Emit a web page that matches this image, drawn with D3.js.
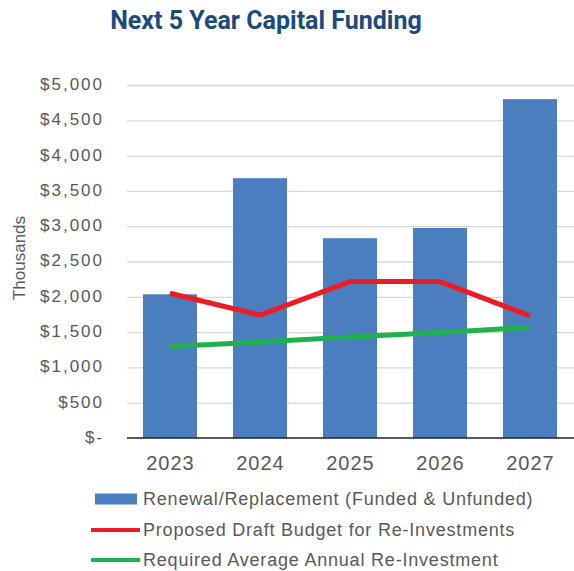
<!DOCTYPE html>
<html>
<head>
<meta charset="utf-8">
<script src="https://cdn.jsdelivr.net/npm/d3@7"></script>
<style>
  html, body { margin: 0; padding: 0; background: #fff; }
  svg { display: block; }
</style>
</head>
<body>
<svg id="chart" width="574" height="571"></svg>
<script>
// Capital funding, in thousands of dollars
const years = ["2023", "2024", "2025", "2026", "2027"];
const renewal = [2035, 3680, 2830, 2975, 4800];
const proposed = [2050, 1740, 2215, 2215, 1730];
const required = [1295, 1360, 1430, 1495, 1565];
const yTicks = [0, 500, 1000, 1500, 2000, 2500, 3000, 3500, 4000, 4500, 5000];
const legendLabels = [
  "Renewal/Replacement (Funded & Unfunded)",
  "Proposed Draft Budget for Re-Investments",
  "Required Average Annual Re-Investment"
];

const svg = d3.select("#chart");
const textFont = "'Liberation Sans', Arial, sans-serif";
const grey = "#595959";

const x = d3.scaleBand().domain(years).range([125, 575]).paddingInner(0.4).paddingOuter(0.2);
const y = d3.scaleLinear().domain([0, 5000]).range([438, 85]);

// Title
svg.append("text")
  .attr("x", 266).attr("y", 29)
  .attr("text-anchor", "middle")
  .style("font-family", "'Liberation Sans Narrow', 'Roboto', sans-serif")
  .style("font-weight", "bold")
  .style("font-size", "25px")
  .style("fill", "#1c4a7c")
  .text("Next 5 Year Capital Funding");

// Gridlines
const grid = d3.axisLeft(y).tickValues(yTicks.filter(d => d > 0)).tickSize(-448).tickFormat("");
svg.append("g").attr("transform", "translate(127,0)").call(grid)
  .call(g => g.select(".domain").remove())
  .call(g => g.selectAll("line").attr("stroke", "#d9d9d9").attr("stroke-width", 1.3));

// Y axis labels
const yAxis = d3.axisLeft(y).tickValues(yTicks).tickSize(0).tickPadding(0)
  .tickFormat(d => d === 0 ? "$-" : "$" + d3.format(",")(d));
svg.append("g").attr("transform", "translate(104,-1)").call(yAxis)
  .call(g => g.select(".domain").remove())
  .call(g => g.selectAll("text")
    .style("font-family", textFont).style("font-size", "17px")
    .style("letter-spacing", "2px").style("fill", grey));

// Y axis title
svg.append("text")
  .attr("transform", "translate(25,258) rotate(-90)")
  .attr("text-anchor", "middle")
  .style("font-family", textFont).style("font-size", "17px").style("fill", grey)
  .text("Thousands");

// Bars
svg.append("g").selectAll("rect").data(years).join("rect")
  .attr("x", d => x(d))
  .attr("width", x.bandwidth())
  .attr("y", (d, i) => y(renewal[i]))
  .attr("height", (d, i) => y(0) - y(renewal[i]))
  .attr("fill", "#4a7ebf");

// X axis
const xAxis = d3.axisBottom(x).tickSize(0).tickPadding(18);
svg.append("g").attr("transform", `translate(0,${y(0)})`).call(xAxis)
  .call(g => g.select(".domain").attr("d", "M127,0H574").attr("stroke", "#222").attr("stroke-width", 1.5))
  .call(g => g.selectAll("text")
    .attr("dx", "0.5px")
    .style("font-family", textFont).style("font-size", "20px")
    .style("letter-spacing", "1px").style("fill", grey));

// Lines
const line = d3.line().x((d, i) => x(years[i]) + x.bandwidth() / 2).y(d => y(d));
svg.append("path").datum(required).attr("d", line)
  .attr("fill", "none").attr("stroke", "#1fb14c").attr("stroke-width", 5);
svg.append("path").datum(proposed).attr("d", line)
  .attr("fill", "none").attr("stroke", "#ec1c24").attr("stroke-width", 5)
  .attr("stroke-linejoin", "round");

// Legend
const legend = svg.append("g");
const rows = [499, 530, 560];
legend.append("rect").attr("x", 95).attr("y", rows[0] - 5.5).attr("width", 42).attr("height", 11).attr("fill", "#4a7ebf");
legend.append("line").attr("x1", 91).attr("x2", 140).attr("y1", rows[1]).attr("y2", rows[1]).attr("stroke", "#ec1c24").attr("stroke-width", 4);
legend.append("line").attr("x1", 91).attr("x2", 140).attr("y1", rows[2]).attr("y2", rows[2]).attr("stroke", "#1fb14c").attr("stroke-width", 4);
legend.selectAll("text").data(legendLabels).join("text")
  .attr("x", 143).attr("y", (d, i) => rows[i])
  .attr("dy", "0.35em")
  .style("font-family", textFont).style("font-size", "18px")
  .style("letter-spacing", "0.8px").style("fill", grey)
  .text(d => d);
</script>
</body>
</html>
